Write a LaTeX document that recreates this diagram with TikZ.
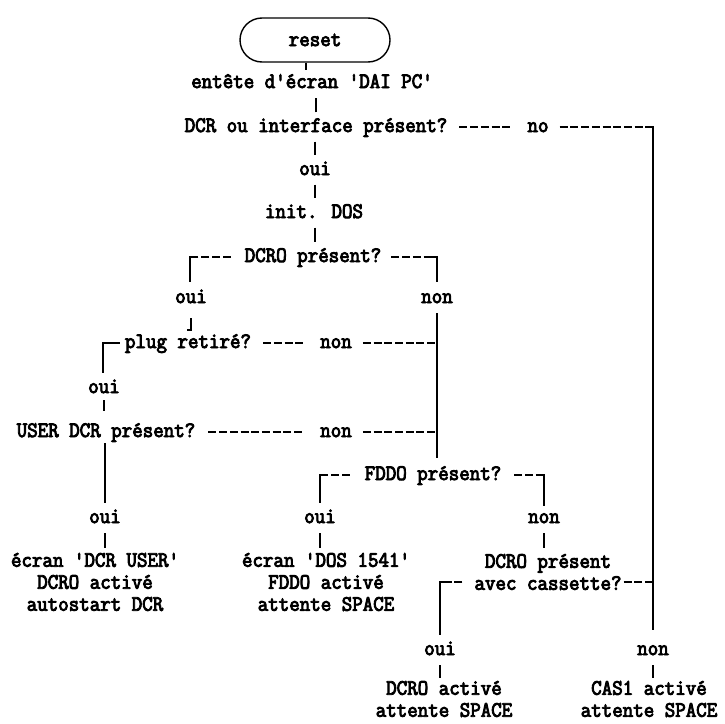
\documentclass[tikz,border=0pt]{standalone}
\usepackage{fontspec}
\newfontfamily\twfont{Latin Modern Mono}[FakeBold=4,FakeStretch=0.927]
\usetikzlibrary{calc}
\begin{document}
\begin{tikzpicture}[x=1pt,y=-1pt,
  every node/.style={inner sep=0pt, font=\fontsize{22pt}{22pt}\twfont},
  lbl/.style={text height=14pt, text depth=4pt},
  blk/.style={align=center},
  vl/.style={line width=1.7pt, line join=miter},
  dl/.style={line width=1.7pt, dash pattern=on 8pt off 2.7pt},
  tick/.style={line width=1.7pt}
]
\useasboundingbox (0,0) rectangle (725,723);

% top chain
\node[draw, line width=1.4pt, rounded corners=22pt, minimum width=150pt, minimum height=44pt] (reset) at (315,40) {reset};
\node[lbl] (hdr) at (312,83) {entête d'écran 'DAI PC'};
\draw[tick, shorten >=4pt] ([xshift=-9pt]reset.south) -- ([xshift=-9pt]reset.south |- hdr.north);
\node[lbl] (q1) at (316,127) {DCR ou interface présent?};
\draw[tick, shorten <=5.5pt, shorten >=5.5pt] (q1.north) -- (q1.north |- hdr.south);
\node[lbl] (no1) at (538,127) {no};
\coordinate (c1) at (653,127);
\node[lbl] (nonR) at (653,650) {non};
\draw[dl, shorten <=12pt, shorten >=14.6pt] (q1.east) -- (no1.west);
\draw[dl, shorten <=11pt] (no1.east) -- (c1);
\draw[vl, shorten >=11pt] ($(c1)+(-5,0)$) -- (c1) -- (nonR.north);

\node[lbl] (oui1) at (315,170) {oui};
\node[lbl] (init) at (314,213) {init. DOS};
\node[lbl] (q2) at (313,257) {DCRO présent?};
\draw[tick, shorten <=5.5pt, shorten >=5.5pt] (q1.south -| oui1) -- (oui1.north);
\draw[tick, shorten <=5.5pt, shorten >=5.5pt] (oui1.south) -- (oui1.south |- init.north);
\draw[tick, shorten <=5.5pt, shorten >=5.5pt] (oui1.south |- init.south) -- (oui1.south |- q2.north);

% DCRO present branches
\coordinate (c2l) at (190,257);
\node[lbl] (oui2) at (191,298) {oui};
\draw[dl, shorten <=14pt] (q2.west) -- (c2l);
\draw[vl, shorten >=7pt] ($(c2l)+(5,0)$) -- (c2l) -- (c2l |- oui2.north);
\coordinate (c2r) at (437,257);
\node[lbl] (non2) at (437,298) {non};
\draw[dl, shorten <=10pt] (q2.east) -- (c2r);
\draw[vl, shorten >=7pt] ($(c2r)+(-5,0)$) -- (c2r) -- (non2.north);

% plug retire
\node[lbl] (plug) at (188,343) {plug retiré?};
\draw[vl] ($(oui2.south)+(0,11)$) -- ($(oui2.south |- plug.north)+(0,-4)$) -- ++(-4,0);
\coordinate (c3l) at (103,343);
\node[lbl] (oui3) at (104,388) {oui};
\draw[vl, shorten <=5pt, shorten >=6pt] (plug.west) -- (c3l) -- (c3l |- oui3.north);
\node[lbl] (non3) at (336,343) {non};
\draw[dl, shorten <=12pt, shorten >=15.5pt] (plug.east) -- (non3.west);
\draw[dl, shorten <=11pt] (non3.east) -- (non3.east -| non2);

% right vertical of non branch
\node[lbl] (q4) at (433,475) {FDDO présent?};
\draw[vl, shorten <=6pt, shorten >=8pt] (non2.south) -- (non2.south |- q4.north);

% USER DCR
\node[lbl] (q3) at (106,432) {USER DCR présent?};
\draw[tick, shorten <=3pt, shorten >=12pt] (oui3.south) -- (oui3.south |- q3.north);
\node[lbl] (non4) at (336,432) {non};
\draw[dl, shorten <=13pt, shorten >=16.3pt] (q3.east) -- (non4.west);
\draw[dl, shorten <=11pt] (non4.east) -- (non4.east -| non2);
\node[lbl] (oui4) at (105,518) {oui};
\draw[vl, shorten <=2pt, shorten >=6pt] (q3.south -| oui4) -- (oui4.north);
\node[blk] (b1) at (95,582) {écran 'DCR USER'\\DCRO activé\\autostart DCR};
\draw[tick, shorten <=6pt, shorten >=5pt] (oui4.south) -- (oui4.south |- b1.north);

% FDDO
\coordinate (c4l) at (320,475);
\node[lbl] (oui5) at (320,518) {oui};
\draw[dl, shorten <=15pt] (q4.west) -- (c4l);
\draw[vl, shorten >=6pt] ($(c4l)+(5,0)$) -- (c4l) -- (oui5.north);
\coordinate (c4r) at (544,475);
\node[lbl] (non5) at (544,518) {non};
\draw[dl, shorten <=13pt] (q4.east) -- (c4r);
\draw[vl, shorten >=3pt] ($(c4r)+(-5,0)$) -- (c4r) -- (non5.north);
\node[blk] (b2) at (326,582) {écran 'DOS 1541'\\FDDO activé\\attente SPACE};
\draw[tick, shorten <=6pt, shorten >=5pt] (oui5.south) -- (oui5.south |- b2.north);

% DCRO avec cassette
\node[blk] (b3) at (548,572) {DCRO présent\\avec cassette?};
\draw[tick, shorten <=6pt, shorten >=6pt] (non5.south) -- (non5.south |- b3.north);
\coordinate (c6) at (440,582);
\coordinate (r6) at (653,582);
\node[lbl] (oui6) at (440,650) {oui};
\draw[dl, shorten <=12pt] (b3.west |- c6) -- (c6);
\draw[vl, shorten >=6pt] ($(c6)+(5,0)$) -- (c6) -- (oui6.north);
\draw[dl, shorten <=2pt] (b3.east |- r6) -- (r6);

\node[blk] (b4) at (444,699) {DCRO activé\\attente SPACE};
\node[blk] (b5) at (649,699) {CAS1 activé\\attente SPACE};
\draw[tick, shorten <=6pt, shorten >=3pt] (oui6.south) -- (oui6.south |- b4.north);
\draw[tick, shorten <=6pt, shorten >=3pt] (nonR.south) -- (nonR.south |- b5.north);
\end{tikzpicture}
\end{document}
